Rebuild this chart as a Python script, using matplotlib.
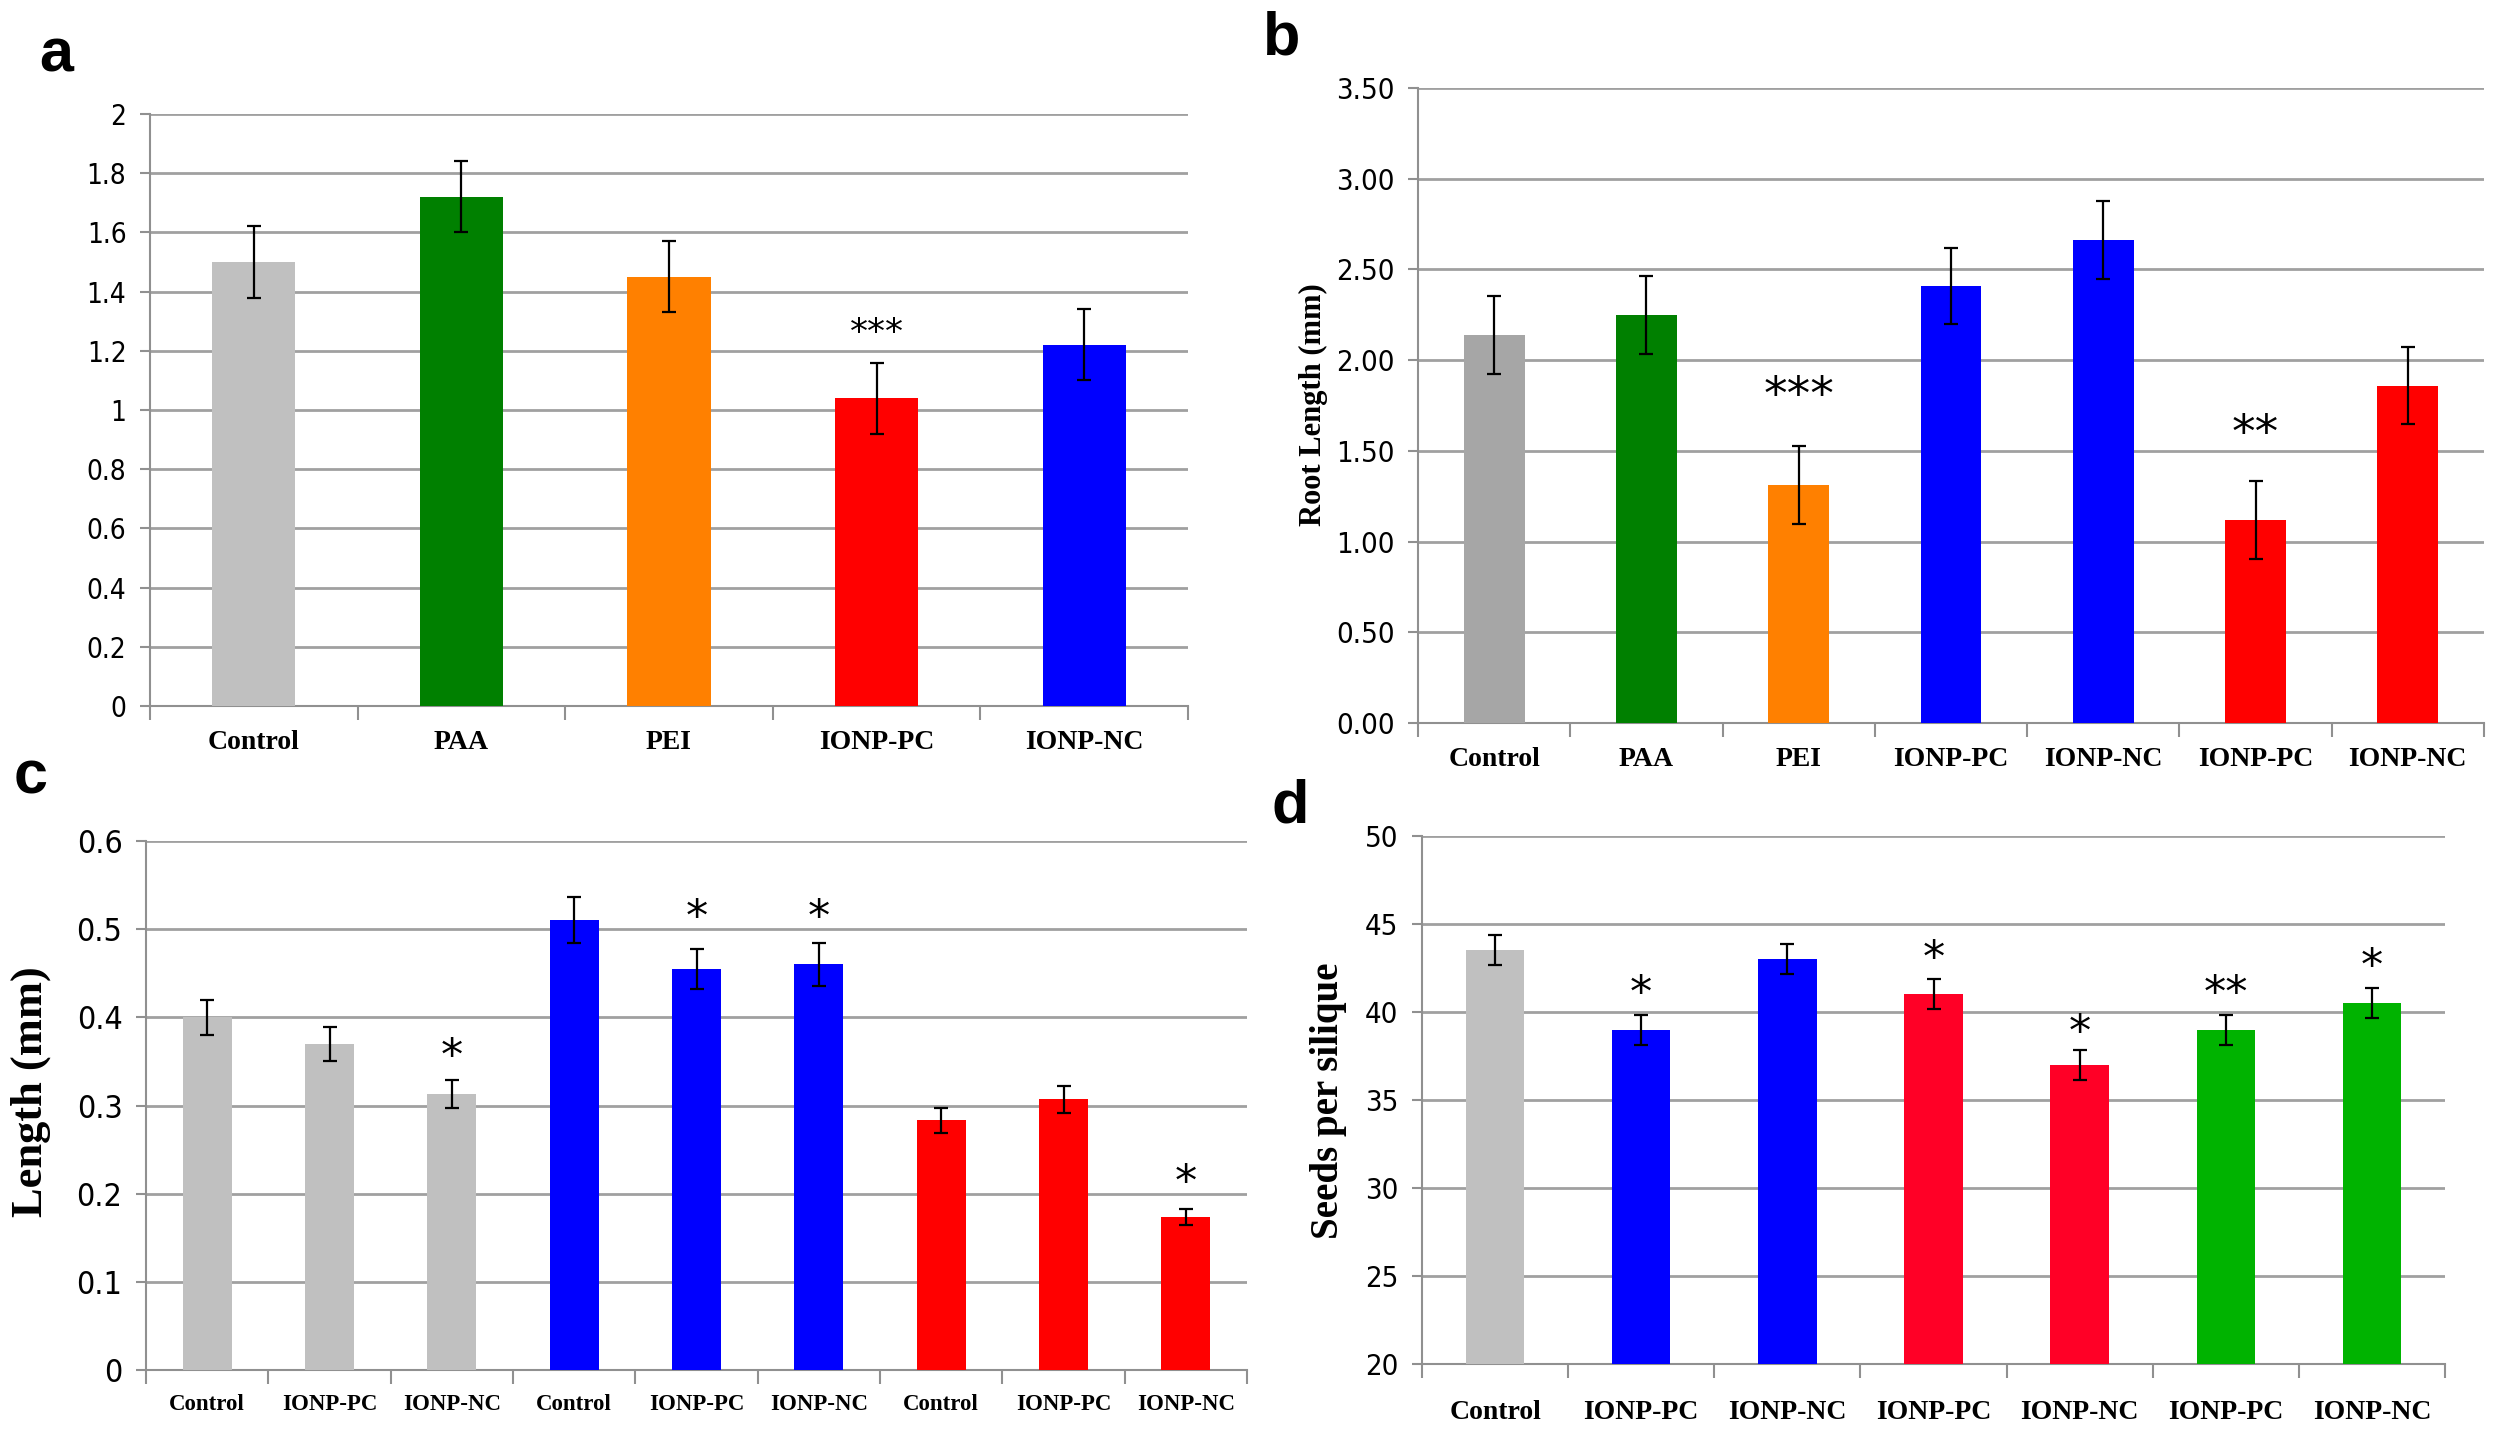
import numpy as np
import matplotlib.pyplot as plt
from matplotlib import font_manager as fm

# panel a
a_labels = ["Control", "PAA", "PEI", "IONP-PC", "IONP-NC"]
a_vals = [1.50, 1.72, 1.45, 1.04, 1.22]
a_err = [0.12, 0.12, 0.12, 0.12, 0.12]
a_cols = ["#C0C0C0", "#008000", "#FF8000", "#FF0000", "#0000FF"]
a_stars = {3: ("***", 1.26)}

# panel b
b_labels = ["Control", "PAA", "PEI", "IONP-PC", "IONP-NC", "IONP-PC", "IONP-NC"]
b_vals = [2.14, 2.25, 1.31, 2.41, 2.66, 1.12, 1.86]
b_err = [0.215, 0.215, 0.215, 0.21, 0.215, 0.215, 0.21]
b_cols = ["#A6A6A6", "#008000", "#FF8000", "#0000FF", "#0000FF", "#FF0000", "#FF0000"]
b_stars = {2: ("***", 1.80), 5: ("**", 1.59)}

# panel c
c_labels = ["Control", "IONP-PC", "IONP-NC"] * 3
c_vals = [0.40, 0.37, 0.313, 0.51, 0.455, 0.46, 0.283, 0.307, 0.174]
c_err = [0.02, 0.019, 0.016, 0.026, 0.023, 0.024, 0.014, 0.015, 0.009]
c_cols = ["#C0C0C0"] * 3 + ["#0000FF"] * 3 + ["#FF0000"] * 3
c_stars = {2: ("*", 0.354), 4: ("*", 0.512), 5: ("*", 0.512), 8: ("*", 0.211)}

# panel d
d_labels = ["Control", "IONP-PC", "IONP-NC", "IONP-PC", "IONP-NC", "IONP-PC", "IONP-NC"]
d_vals = [43.5, 39.0, 43.0, 41.0, 37.0, 39.0, 40.5]
d_err = [0.85, 0.85, 0.85, 0.85, 0.85, 0.85, 0.85]
d_cols = ["#C0C0C0", "#0000FF", "#0000FF", "#FF0026", "#FF0026", "#00B300", "#00B300"]
d_stars = {1: ("*", 41.0), 3: ("*", 43.0), 4: ("*", 38.8), 5: ("**", 41.0), 6: ("*", 42.5)}

# narrow font for the numbers if there is one
fonts = {(f.name, f.stretch) for f in fm.fontManager.ttflist}
num_kw = {"family": "Liberation Sans"}
if any(n == "Liberation Sans Narrow" for n, s in fonts):
    num_kw = {"family": "Liberation Sans Narrow"}
elif ("DejaVu Sans", "condensed") in fonts or ("DejaVu Sans", 600) in fonts:
    num_kw = {"family": "DejaVu Sans", "stretch": "condensed"}

lab_font = "Liberation Serif"
grid_col = "#A0A0A0"

W, H = 2515, 1440
fig = plt.figure(figsize=(W / 100, H / 100), dpi=100)


def box(l, t, r, b):
    return [l / W, 1 - b / H, (r - l) / W, (b - t) / H]


def panel(rect, labels, vals, err, cols, stars, ylim, yticks, yfmt,
          xfs, yfs, starfs, xpad):
    ax = fig.add_axes(rect)
    n = len(vals)
    x = np.arange(n)
    ax.bar(x, vals, width=0.40, color=cols, zorder=3)
    ax.errorbar(x, vals, yerr=err, fmt="none", ecolor="black", elinewidth=1.6,
                capsize=5, capthick=1.6, zorder=4)
    for i, (s, yv) in stars.items():
        ax.text(x[i], yv, s, ha="center", va="center", fontsize=starfs,
                family="DejaVu Sans", zorder=5)
    ax.set_xlim(-0.5, n - 0.5)
    ax.set_ylim(*ylim)
    ax.set_yticks(yticks)
    ax.set_yticklabels([yfmt.format(v) if yfmt else ("%g" % v) for v in yticks],
                       fontsize=yfs, **num_kw)
    ax.set_xticks(x)
    ax.set_xticklabels(labels, family=lab_font, fontweight="bold", fontsize=xfs)
    ax.set_xticks(np.arange(n + 1) - 0.5, minor=True)
    ax.tick_params(axis="x", which="major", length=0, pad=xpad)
    ax.tick_params(axis="x", which="minor", length=10, width=1.5, color="#909090")
    ax.tick_params(axis="y", length=7, width=1.5, color="#909090", pad=10)
    ax.grid(axis="y", color=grid_col, linewidth=2, zorder=0)
    for s in ["top", "right"]:
        ax.spines[s].set_visible(False)
    for s in ["left", "bottom"]:
        ax.spines[s].set_color("#909090")
        ax.spines[s].set_linewidth(1.5)
    return ax


panel(box(150, 114, 1188, 706), a_labels, a_vals, a_err, a_cols, a_stars,
      (0, 2), np.round(np.arange(0, 2.01, 0.2), 1), None, 20, 20, 26, 17)
panel(box(1418, 88, 2484, 723), b_labels, b_vals, b_err, b_cols, b_stars,
      (0, 3.5), np.arange(0, 3.51, 0.5), "{:.2f}", 20, 21, 34, 17)
panel(box(146, 841, 1247, 1370), c_labels, c_vals, c_err, c_cols, c_stars,
      (0, 0.6), np.round(np.arange(0, 0.61, 0.1), 1), None, 16.5, 23, 32, 17)
panel(box(1422, 836, 2445, 1364), d_labels, d_vals, d_err, d_cols, d_stars,
      (20, 50), np.arange(20, 51, 5), None, 20, 21, 32, 26)

# y axis titles
fig.text(1313 / W, 1 - 405 / H, "Root Length (mm)", rotation=90, ha="center", va="center",
         family=lab_font, fontweight="bold", fontsize=22)
fig.text(31 / W, 1 - 1092 / H, "Length (mm)", rotation=90, ha="center", va="center",
         family=lab_font, fontweight="bold", fontsize=32)
fig.text(1329 / W, 1 - 1101 / H, "Seeds per silique", rotation=90, ha="center", va="center",
         family=lab_font, fontweight="bold", fontsize=28)

# panel letters
for s, px, py in [("a", 56, 56), ("b", 1282, 39), ("c", 31, 778), ("d", 1290, 807)]:
    fig.text(px / W, 1 - py / H, s, ha="center", va="center", fontsize=44,
             fontweight="bold", family="Liberation Sans")

fig.savefig("out.png", dpi=100, facecolor="white")
